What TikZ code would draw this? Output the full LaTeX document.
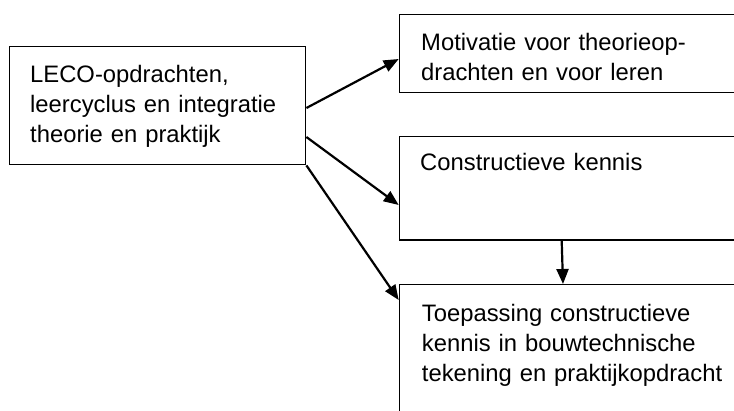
\documentclass[tikz,border=0pt]{standalone}
\usepackage{fontspec}
\setmainfont{Liberation Sans}
\usetikzlibrary{arrows.meta,calc}
\tikzset{
    blok/.style={draw, line width=1.4pt, rectangle, anchor=north west, inner sep=0pt, minimum width=#1},
    blok/.default=360pt,
    tekst/.style={anchor=base west, inner sep=0pt, text width=320pt, align=left,
        font=\fontsize{23.8}{30}\selectfont},
    pijl/.style={line width=2.2pt, -{Triangle[length=15pt,width=12pt]}}
}
\begin{document}
\begin{tikzpicture}[x=1pt,y=-1pt]
    \clip (0,0) rectangle (734,410);
    % vakken
    \node[blok=296.5pt, minimum height=118.3pt] (leco) at (8.5,45.7) {};
    \node[blok, minimum height=77.7pt] (motiv) at (398.7,14) {};
    \node[blok, minimum height=103.3pt] (kennis) at (398.7,136) {};
    \node[blok, minimum height=146pt] (toep) at (398.7,284) {};
    % teksten
    \node[tekst] (leco-t) at ($(leco.north west)+(21.5,36.6)$)
        {LECO-opdrachten,\\leercyclus en integratie\\theorie en praktijk};
    \node[tekst] (motiv-t) at ($(motiv.north west)+(22.3,36.7)$)
        {Motivatie voor theorieop-\\drachten en voor leren};
    \node[tekst] (kennis-t) at ($(kennis.north west)+(21.3,34.7)$)
        {Constructieve kennis};
    \node[tekst] (toep-t) at ($(toep.north west)+(23,37.7)$)
        {Toepassing constructieve\\kennis in bouwtechnische\\tekening en praktijkopdracht};
    % pijlen
    \draw[pijl] ([yshift=-62.3pt]leco.north east) -- ([yshift=-45pt]motiv.north west);
    \draw[pijl] ([yshift=-91.3pt]leco.north east) -- ([yshift=-69pt]kennis.north west);
    \draw[pijl] (leco.south east) -- ([yshift=-16pt]toep.north west);
    \draw[pijl] ([xshift=163pt]kennis.south west) -- ([xshift=164.3pt]toep.north west);
\end{tikzpicture}
\end{document}
